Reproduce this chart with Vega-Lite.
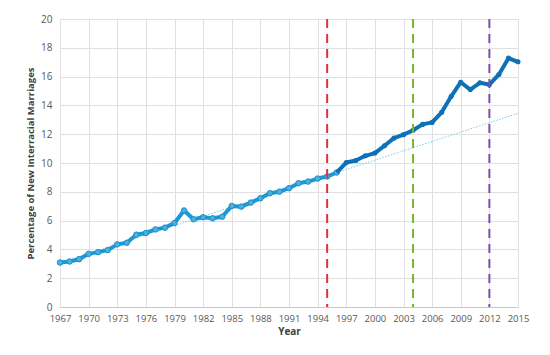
{
  "$schema": "https://vega.github.io/schema/vega-lite/v6.json",
  "width": 458,
  "height": 288,
  "autosize": {"type": "none"},
  "padding": {"left": 60, "top": 19, "right": 32, "bottom": 48},
  "background": "white",
  "config": {
    "view": {"stroke": null},
    "font": "Open Sans",
    "axis": {"labelFont": "Open Sans", "titleFont": "Open Sans"}
  },
  "datasets": {
    "marriages": [
      {"year": 1967, "pct": 3.09, "series": "A"},
      {"year": 1968, "pct": 3.16, "series": "A"},
      {"year": 1969, "pct": 3.32, "series": "A"},
      {"year": 1970, "pct": 3.69, "series": "A"},
      {"year": 1971, "pct": 3.81, "series": "A"},
      {"year": 1972, "pct": 3.95, "series": "A"},
      {"year": 1973, "pct": 4.35, "series": "A"},
      {"year": 1974, "pct": 4.46, "series": "A"},
      {"year": 1975, "pct": 5.02, "series": "A"},
      {"year": 1976, "pct": 5.14, "series": "A"},
      {"year": 1977, "pct": 5.39, "series": "A"},
      {"year": 1978, "pct": 5.51, "series": "A"},
      {"year": 1979, "pct": 5.83, "series": "A"},
      {"year": 1980, "pct": 6.7, "series": "A"},
      {"year": 1981, "pct": 6.09, "series": "A"},
      {"year": 1982, "pct": 6.23, "series": "A"},
      {"year": 1983, "pct": 6.16, "series": "A"},
      {"year": 1984, "pct": 6.27, "series": "A"},
      {"year": 1985, "pct": 7.02, "series": "A"},
      {"year": 1986, "pct": 6.97, "series": "A"},
      {"year": 1987, "pct": 7.25, "series": "A"},
      {"year": 1988, "pct": 7.55, "series": "A"},
      {"year": 1989, "pct": 7.9, "series": "A"},
      {"year": 1990, "pct": 8.01, "series": "A"},
      {"year": 1991, "pct": 8.25, "series": "A"},
      {"year": 1992, "pct": 8.6, "series": "A"},
      {"year": 1993, "pct": 8.71, "series": "A"},
      {"year": 1994, "pct": 8.92, "series": "A"},
      {"year": 1995, "pct": 9.06, "series": "A"},
      {"year": 1996, "pct": 9.34, "series": "A"},
      {"year": 1996, "pct": 9.34, "series": "B"},
      {"year": 1997, "pct": 10.03, "series": "B"},
      {"year": 1998, "pct": 10.17, "series": "B"},
      {"year": 1999, "pct": 10.5, "series": "B"},
      {"year": 2000, "pct": 10.69, "series": "B"},
      {"year": 2001, "pct": 11.2, "series": "B"},
      {"year": 2002, "pct": 11.73, "series": "B"},
      {"year": 2003, "pct": 11.97, "series": "B"},
      {"year": 2004, "pct": 12.27, "series": "B"},
      {"year": 2005, "pct": 12.68, "series": "B"},
      {"year": 2006, "pct": 12.82, "series": "B"},
      {"year": 2007, "pct": 13.52, "series": "B"},
      {"year": 2008, "pct": 14.63, "series": "B"},
      {"year": 2009, "pct": 15.61, "series": "B"},
      {"year": 2010, "pct": 15.1, "series": "B"},
      {"year": 2011, "pct": 15.57, "series": "B"},
      {"year": 2012, "pct": 15.45, "series": "B"},
      {"year": 2013, "pct": 16.15, "series": "B"},
      {"year": 2014, "pct": 17.28, "series": "B"},
      {"year": 2015, "pct": 17.03, "series": "B"}
    ],
    "markers": [
      {"year": 1995, "event": "red"},
      {"year": 2004, "event": "green"},
      {"year": 2012, "event": "purple"}
    ]
  },
  "layer": [
    {
      "data": {"name": "marriages"},
      "transform": [
        {"filter": "datum.series === 'A' && datum.year <= 1995"},
        {"regression": "pct", "on": "year", "extent": [1967, 2015]}
      ],
      "mark": {"type": "line", "color": "#7fcde8", "strokeWidth": 1, "strokeDash": [1.5, 1.5]},
      "encoding": {
        "x": {
          "field": "year", "type": "quantitative",
          "scale": {"domain": [1967, 2015], "nice": false, "zero": false},
          "axis": {
            "values": [1967, 1970, 1973, 1976, 1979, 1982, 1985, 1988, 1991, 1994, 1997, 2000, 2003, 2006, 2009, 2012, 2015],
            "tickCount": 40,
            "format": "d",
            "title": "Year",
            "titleFontSize": 10,
            "titleFontWeight": "bold",
            "titleColor": "#404040",
            "titlePadding": 4,
            "labelFontSize": 9.5,
            "labelColor": "#595959",
            "labelPadding": 6,
            "labelOverlap": false,
            "labelFlush": false,
            "ticks": false,
            "grid": true,
            "gridColor": "#e0e0e0",
            "domainColor": "#c8c8c8"
          }
        },
        "y": {
          "field": "pct", "type": "quantitative",
          "scale": {"domain": [0, 20], "nice": false},
          "axis": {
            "values": [0, 2, 4, 6, 8, 10, 12, 14, 16, 18, 20],
            "tickCount": 40,
            "format": "d",
            "title": "Percentage of New Interracial Marriages",
            "titleFontSize": 9.5,
            "titleFontWeight": "bold",
            "titleColor": "#404040",
            "titlePadding": 5,
            "labelFontSize": 10,
            "labelColor": "#595959",
            "labelPadding": 8,
            "labelOverlap": false,
            "ticks": false,
            "domain": false,
            "grid": true,
            "gridColor": "#e0e0e0"
          }
        }
      }
    },
    {
      "data": {"name": "marriages"},
      "transform": [{"filter": "datum.series === 'A'"}],
      "mark": {"type": "line", "color": "#1d98d4", "strokeWidth": 4, "strokeJoin": "round"},
      "encoding": {
        "x": {"field": "year", "type": "quantitative"},
        "y": {"field": "pct", "type": "quantitative"}
      }
    },
    {
      "data": {"name": "marriages"},
      "transform": [{"filter": "datum.series === 'A'"}],
      "mark": {"type": "point", "shape": "circle", "filled": true, "color": "#4bb0e0", "stroke": "#1a8fc8", "strokeWidth": 1, "size": 30, "opacity": 1},
      "encoding": {
        "x": {"field": "year", "type": "quantitative"},
        "y": {"field": "pct", "type": "quantitative"}
      }
    },
    {
      "data": {"name": "marriages"},
      "transform": [{"filter": "datum.series === 'B'"}],
      "mark": {"type": "line", "color": "#0f70b8", "strokeWidth": 4, "strokeJoin": "round"},
      "encoding": {
        "x": {"field": "year", "type": "quantitative"},
        "y": {"field": "pct", "type": "quantitative"}
      }
    },
    {
      "data": {"name": "marriages"},
      "transform": [{"filter": "datum.series === 'B' && datum.year > 1996"}],
      "mark": {"type": "point", "shape": "circle", "filled": true, "color": "#0f70b8", "size": 26, "opacity": 1},
      "encoding": {
        "x": {"field": "year", "type": "quantitative"},
        "y": {"field": "pct", "type": "quantitative"}
      }
    },
    {
      "data": {"name": "markers"},
      "mark": {"type": "rule", "strokeWidth": 2, "strokeDash": [9, 6]},
      "encoding": {
        "x": {"field": "year", "type": "quantitative"},
        "color": {
          "field": "event", "type": "nominal",
          "scale": {"domain": ["red", "green", "purple"], "range": ["#e0322e", "#7ab62a", "#7d4fa6"]},
          "legend": null
        }
      }
    }
  ]
}
